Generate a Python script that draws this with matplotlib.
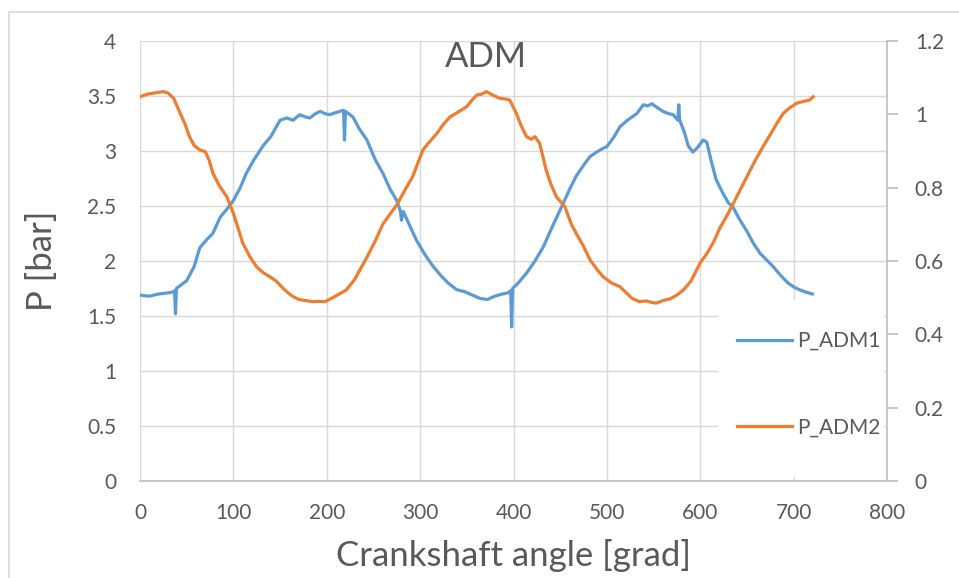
import matplotlib
matplotlib.use('Agg')
import matplotlib.pyplot as plt
from matplotlib.patches import Rectangle

# P_ADM1 (left axis, bar)
adm1_angle = [0, 10, 20, 30, 36, 37, 38, 39, 42, 50, 58, 64, 72, 78, 86, 93, 100, 107, 114, 122,
              132, 140, 150, 157, 164, 171, 177, 182, 188, 193, 198, 203, 210, 218, 219, 220, 228,
              235, 243, 252, 260, 268, 275, 279, 280, 282, 290, 296, 305, 314, 322, 330, 339, 348,
              356, 364, 372, 380, 388, 394, 397, 398, 399, 405, 414, 423, 432, 442, 453, 460, 467,
              475, 482, 489, 495, 500, 507, 514, 522, 532, 539, 544, 548, 553, 560, 566, 571, 576,
              577, 578, 583, 587, 592, 597, 603, 607, 612, 617, 624, 630, 635, 642, 650, 657, 664,
              671, 678, 686, 694, 701, 706, 712, 716, 720]
adm1_p = [1.69, 1.68, 1.70, 1.71, 1.72, 1.73, 1.52, 1.75, 1.77, 1.82, 1.95, 2.12, 2.20, 2.25, 2.40,
          2.47, 2.55, 2.66, 2.80, 2.92, 3.05, 3.13, 3.28, 3.30, 3.28, 3.33, 3.31, 3.30, 3.34, 3.36,
          3.34, 3.33, 3.35, 3.37, 3.10, 3.36, 3.31, 3.20, 3.10, 2.92, 2.80, 2.65, 2.55, 2.45, 2.37,
          2.45, 2.30, 2.19, 2.06, 1.95, 1.87, 1.80, 1.74, 1.72, 1.69, 1.66, 1.65, 1.68, 1.70, 1.71,
          1.73, 1.40, 1.75, 1.80, 1.89, 2.00, 2.13, 2.32, 2.52, 2.65, 2.77, 2.87, 2.95, 2.99, 3.02,
          3.04, 3.12, 3.22, 3.28, 3.34, 3.42, 3.41, 3.43, 3.40, 3.36, 3.34, 3.33, 3.28, 3.42, 3.28,
          3.17, 3.05, 2.99, 3.03, 3.10, 3.08, 2.90, 2.74, 2.62, 2.53, 2.49, 2.38, 2.27, 2.16, 2.07,
          2.01, 1.95, 1.87, 1.80, 1.76, 1.74, 1.72, 1.71, 1.70]

# P_ADM2 (right axis)
adm2_angle = [0, 8, 15, 25, 30, 36, 43, 48, 53, 58, 64, 70, 74, 78, 85, 93, 100, 105, 110, 118,
              125, 132, 139, 146, 153, 160, 164, 170, 178, 185, 192, 198, 205, 212, 221, 230, 236,
              243, 252, 260, 267, 275, 283, 292, 298, 303, 310, 318, 325, 332, 340, 350, 356, 361,
              366, 371, 378, 385, 391, 396, 403, 408, 414, 419, 423, 428, 435, 440, 446, 455, 462,
              467, 475, 482, 490, 496, 505, 514, 520, 527, 535, 542, 548, 553, 560, 568, 575, 582,
              590, 600, 607, 614, 621, 628, 635, 643, 650, 658, 667, 675, 682, 689, 696, 703, 710,
              717, 721]
adm2_p = [1.048, 1.055, 1.058, 1.062, 1.058, 1.044, 1.003, 0.975, 0.939, 0.915, 0.903, 0.898, 0.875,
          0.840, 0.805, 0.775, 0.730, 0.690, 0.649, 0.610, 0.584, 0.568, 0.557, 0.545, 0.526, 0.510,
          0.503, 0.495, 0.492, 0.489, 0.490, 0.489, 0.498, 0.508, 0.521, 0.550, 0.578, 0.610, 0.655,
          0.700, 0.725, 0.753, 0.790, 0.830, 0.870, 0.903, 0.925, 0.948, 0.973, 0.993, 1.005, 1.021,
          1.040, 1.053, 1.055, 1.062, 1.052, 1.044, 1.042, 1.039, 1.003, 0.970, 0.939, 0.932, 0.939,
          0.921, 0.848, 0.810, 0.775, 0.748, 0.700, 0.676, 0.640, 0.603, 0.575, 0.557, 0.540, 0.530,
          0.515, 0.498, 0.489, 0.491, 0.487, 0.485, 0.492, 0.497, 0.507, 0.521, 0.545, 0.595, 0.620,
          0.650, 0.690, 0.721, 0.755, 0.795, 0.830, 0.870, 0.911, 0.945, 0.975, 1.003, 1.018, 1.030,
          1.035, 1.039, 1.048]

left_ticks = [0, 0.5, 1, 1.5, 2, 2.5, 3, 3.5, 4]
right_ticks = [0, 0.2, 0.4, 0.6, 0.8, 1, 1.2]
x_ticks = [0, 100, 200, 300, 400, 500, 600, 700, 800]

blue = '#5B9BD5'
orange = '#ED7D31'
txt = '#595959'
grid = '#D9D9D9'

plt.rcParams['font.family'] = ['Lato', 'DejaVu Sans']

fig = plt.figure(figsize=(9.59, 5.78), dpi=100)
fig.patches.append(Rectangle((9 / 959, -0.2), 1.2, 1.2 - 12 / 578, transform=fig.transFigure,
                             fill=False, edgecolor='#D9D9D9', linewidth=1.2))

ax = fig.add_axes([140 / 959, 1 - 481 / 578, 747 / 959, 440 / 578])
ax.plot(adm1_angle, adm1_p, color=blue, linewidth=2.3, label='P_ADM1', solid_joinstyle='round')
ax.set_xlim(0, 800)
ax.set_ylim(0, 4)
ax.set_xticks(x_ticks)
ax.set_yticks(left_ticks)
ax.set_yticklabels(['0', '0.5', '1', '1.5', '2', '2.5', '3', '3.5', '4'])
ax.grid(True, color=grid, linewidth=1.0)
ax.set_axisbelow(True)
for s in ['top', 'right', 'left']:
	ax.spines[s].set_visible(False)
ax.spines['bottom'].set_color('#BFBFBF')
ax.spines['bottom'].set_linewidth(1.2)
ax.tick_params(axis='both', length=0, labelsize=15, labelcolor=txt)
ax.tick_params(axis='y', pad=17)
ax.tick_params(axis='x', pad=16)
ax.set_ylabel('P [bar]', fontsize=25, color=txt)
ax.yaxis.set_label_coords(-0.11, 0.5)
ax.set_xlabel('Crankshaft angle [grad]', fontsize=25, color=txt, va='center')
ax.xaxis.set_label_coords(0.5, -0.17)

ax2 = ax.twinx()
ax2.plot(adm2_angle, adm2_p, color=orange, linewidth=2.3, label='P_ADM2', solid_joinstyle='round')
ax2.set_ylim(0, 1.2)
ax2.set_yticks(right_ticks)
ax2.set_yticklabels(['0', '0.2', '0.4', '0.6', '0.8', '1', '1.2'])
for s in ['top', 'left', 'bottom']:
	ax2.spines[s].set_visible(False)
ax2.spines['right'].set_color('#BFBFBF')
ax2.spines['right'].set_linewidth(1.2)
ax2.tick_params(axis='y', length=8, width=1.2, color='#BFBFBF', labelsize=15, labelcolor=txt, pad=12)

# white legend background
ax2.add_patch(Rectangle((578 / 747, 4 / 440), 166 / 747, 177 / 440, transform=ax2.transAxes,
                        facecolor='white', edgecolor='none', zorder=0))

h1, l1 = ax.get_legend_handles_labels()
h2, l2 = ax2.get_legend_handles_labels()
leg = ax2.legend(h1 + h2, l1 + l2, loc='center left', bbox_to_anchor=(582 / 747, 0.22),
                 frameon=False, fontsize=15, labelspacing=3.2, handlelength=2.65,
                 handletextpad=0.25, borderpad=0.2)
for t in leg.get_texts():
	t.set_color(txt)

fig.text(486 / 959, 1 - 57 / 578, 'ADM', fontsize=25, color=txt, ha='center', va='center')

fig.savefig('out.png', dpi=100)
